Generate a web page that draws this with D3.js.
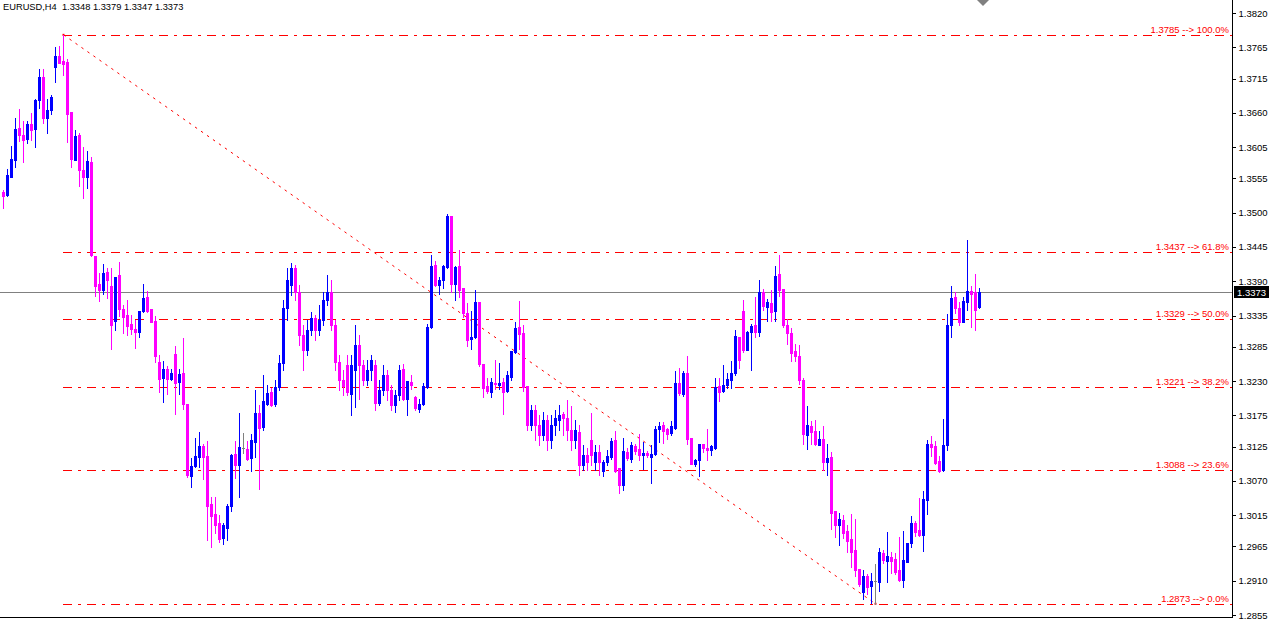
<!DOCTYPE html>
<html><head><meta charset="utf-8">
<script src="https://cdn.jsdelivr.net/npm/d3@7"></script>
<style>
body{margin:0;background:#fff;overflow:hidden}
svg{display:block}
text{font-family:"Liberation Sans",Arial,sans-serif}
</style>
</head><body>
<svg id="chart" width="1274" height="621"></svg>
<script>
const symbol = "EURUSD,H4";
const opens = [1.3533,1.3528,1.3557,1.3584,1.3636,1.3624,1.3618,1.3642,1.3634,1.3681,1.3717,1.3652,1.3665,1.3733,1.3751,1.3743,1.3741,1.3661,1.3584,1.3624,1.3568,1.3557,1.3581,1.3430,1.3386,1.3376,1.3405,1.3382,1.3326,1.3400,1.3346,1.3336,1.3321,1.3313,1.3309,1.3342,1.3365,1.3346,1.3326,1.3261,1.3235,1.3249,1.3233,1.3273,1.3228,1.3243,1.3193,1.3078,1.3094,1.3108,1.3126,1.3110,1.3033,1.3017,1.3003,1.2978,1.2995,1.3030,1.3113,1.3095,1.3123,1.3121,1.3107,1.3132,1.3179,1.3156,1.3193,1.3212,1.3193,1.3220,1.3259,1.3347,1.3384,1.3411,1.3373,1.3304,1.3280,1.3312,1.3331,1.3312,1.3328,1.3360,1.3373,1.3320,1.3261,1.3232,1.3256,1.3209,1.3248,1.3288,1.3256,1.3232,1.3248,1.3256,1.3195,1.3216,1.3240,1.3216,1.3192,1.3208,1.3249,1.3201,1.3228,1.3204,1.3185,1.3193,1.3220,1.3317,1.3416,1.3384,1.3392,1.3413,1.3495,1.3386,1.3414,1.3379,1.3339,1.3297,1.3301,1.3357,1.3257,1.3222,1.3212,1.3227,1.3224,1.3228,1.3214,1.3236,1.3277,1.3317,1.3307,1.3222,1.3160,1.3184,1.3160,1.3144,1.3168,1.3136,1.3160,1.3168,1.3177,1.3171,1.3152,1.3136,1.3148,1.3095,1.3111,1.3136,1.3100,1.3116,1.3086,1.3100,1.3108,1.3136,1.3091,1.3063,1.3116,1.3105,1.3126,1.3121,1.3111,1.3115,1.3108,1.3113,1.3153,1.3160,1.3153,1.3147,1.3155,1.3227,1.3209,1.3243,1.3139,1.3097,1.3103,1.3129,1.3123,1.3119,1.3123,1.3222,1.3214,1.3224,1.3232,1.3243,1.3301,1.3342,1.3280,1.3309,1.3320,1.3309,1.3373,1.3349,1.3355,1.3342,1.3402,1.3378,1.3320,1.3307,1.3278,1.3270,1.3232,1.3144,1.3158,1.3150,1.3127,1.3137,1.3100,1.3108,1.3022,1.3000,1.3007,1.2990,1.2977,1.2959,1.2929,1.2892,1.2918,1.2902,1.2910,1.2908,1.2954,1.2942,1.2948,1.2945,1.2927,1.2911,1.2940,1.2970,1.3003,1.2991,1.2983,1.3039,1.3129,1.3126,1.3102,1.3087,1.3127,1.3320,1.3365,1.3347,1.3325,1.3357,1.3374,1.3373,1.3348];
const highs = [1.3536,1.3570,1.3607,1.3652,1.3666,1.3647,1.3647,1.3660,1.3682,1.3730,1.3730,1.3682,1.3689,1.3766,1.3767,1.3785,1.3746,1.3661,1.3632,1.3628,1.3605,1.3599,1.3589,1.3430,1.3403,1.3418,1.3411,1.3411,1.3397,1.3421,1.3352,1.3360,1.3336,1.3328,1.3342,1.3386,1.3374,1.3346,1.3334,1.3272,1.3262,1.3254,1.3249,1.3286,1.3249,1.3299,1.3193,1.3107,1.3139,1.3148,1.3129,1.3134,1.3044,1.3044,1.3015,1.3002,1.3033,1.3113,1.3134,1.3179,1.3147,1.3134,1.3145,1.3216,1.3192,1.3240,1.3224,1.3219,1.3232,1.3272,1.3360,1.3411,1.3419,1.3416,1.3384,1.3320,1.3328,1.3341,1.3336,1.3352,1.3373,1.3400,1.3392,1.3328,1.3272,1.3248,1.3272,1.3272,1.3320,1.3304,1.3264,1.3264,1.3272,1.3264,1.3232,1.3256,1.3248,1.3224,1.3216,1.3256,1.3257,1.3230,1.3240,1.3206,1.3201,1.3227,1.3321,1.3432,1.3422,1.3397,1.3416,1.3498,1.3495,1.3414,1.3440,1.3379,1.3355,1.3342,1.3376,1.3357,1.3257,1.3235,1.3235,1.3264,1.3259,1.3235,1.3246,1.3278,1.3325,1.3358,1.3320,1.3222,1.3192,1.3192,1.3176,1.3180,1.3176,1.3176,1.3184,1.3192,1.3180,1.3200,1.3190,1.3168,1.3160,1.3127,1.3122,1.3179,1.3127,1.3127,1.3103,1.3119,1.3139,1.3150,1.3091,1.3139,1.3122,1.3132,1.3129,1.3145,1.3132,1.3118,1.3127,1.3158,1.3164,1.3164,1.3155,1.3166,1.3246,1.3251,1.3246,1.3270,1.3139,1.3105,1.3129,1.3129,1.3153,1.3127,1.3235,1.3235,1.3256,1.3243,1.3262,1.3312,1.3301,1.3360,1.3310,1.3321,1.3365,1.3392,1.3378,1.3362,1.3376,1.3414,1.3432,1.3378,1.3329,1.3315,1.3289,1.3288,1.3235,1.3190,1.3166,1.3168,1.3150,1.3158,1.3129,1.3116,1.3022,1.3019,1.3015,1.2999,1.3017,1.3009,1.2929,1.2927,1.2921,1.2922,1.2937,1.2962,1.2959,1.2988,1.2956,1.2954,1.2980,1.2990,1.2970,1.3014,1.3006,1.3043,1.3054,1.3136,1.3142,1.3134,1.3110,1.3169,1.3338,1.3382,1.3373,1.3357,1.3365,1.3456,1.3382,1.3402,1.3379];
const lows = [1.3507,1.3527,1.3557,1.3573,1.3615,1.3581,1.3612,1.3616,1.3605,1.3668,1.3644,1.3628,1.3658,1.3709,1.3740,1.3720,1.3613,1.3573,1.3584,1.3543,1.3523,1.3539,1.3430,1.3366,1.3358,1.3370,1.3363,1.3281,1.3312,1.3334,1.3307,1.3304,1.3305,1.3283,1.3301,1.3341,1.3341,1.3325,1.3261,1.3212,1.3196,1.3209,1.3232,1.3177,1.3209,1.3185,1.3076,1.3060,1.3092,1.3092,1.3073,1.2975,1.2964,1.2986,1.2972,1.2969,1.2975,1.3022,1.3075,1.3044,1.3115,1.3103,1.3086,1.3108,1.3057,1.3152,1.3192,1.3190,1.3190,1.3216,1.3248,1.3328,1.3368,1.3360,1.3288,1.3248,1.3272,1.3304,1.3296,1.3304,1.3320,1.3352,1.3312,1.3248,1.3216,1.3208,1.3208,1.3176,1.3188,1.3201,1.3224,1.3224,1.3232,1.3184,1.3192,1.3208,1.3200,1.3184,1.3180,1.3200,1.3200,1.3176,1.3217,1.3184,1.3180,1.3192,1.3219,1.3315,1.3382,1.3370,1.3379,1.3411,1.3373,1.3360,1.3365,1.3333,1.3286,1.3281,1.3299,1.3254,1.3204,1.3211,1.3204,1.3217,1.3217,1.3177,1.3212,1.3232,1.3275,1.3281,1.3214,1.3152,1.3152,1.3136,1.3127,1.3136,1.3119,1.3122,1.3144,1.3152,1.3144,1.3136,1.3119,1.3122,1.3079,1.3087,1.3087,1.3095,1.3087,1.3079,1.3078,1.3095,1.3105,1.3084,1.3051,1.3055,1.3103,1.3100,1.3113,1.3103,1.3089,1.3108,1.3067,1.3111,1.3132,1.3131,1.3137,1.3144,1.3153,1.3208,1.3206,1.3129,1.3097,1.3094,1.3078,1.3116,1.3103,1.3111,1.3121,1.3198,1.3212,1.3219,1.3219,1.3240,1.3251,1.3277,1.3280,1.3248,1.3301,1.3302,1.3344,1.3326,1.3326,1.3326,1.3366,1.3317,1.3289,1.3262,1.3262,1.3225,1.3129,1.3121,1.3129,1.3127,1.3127,1.3087,1.3079,1.2993,1.2980,1.2967,1.2978,1.2956,1.2932,1.2918,1.2902,1.2881,1.2889,1.2874,1.2873,1.2893,1.2938,1.2908,1.2922,1.2921,1.2910,1.2900,1.2940,1.2964,1.2982,1.2982,1.2958,1.3017,1.3110,1.3097,1.3084,1.3086,1.3119,1.3301,1.3339,1.3320,1.3325,1.3344,1.3317,1.3312,1.3347];
const closes = [1.3527,1.3560,1.3586,1.3634,1.3624,1.3616,1.3642,1.3632,1.3681,1.3717,1.3652,1.3665,1.3685,1.3751,1.3740,1.3738,1.3658,1.3586,1.3623,1.3568,1.3557,1.3583,1.3432,1.3382,1.3376,1.3403,1.3392,1.3320,1.3397,1.3346,1.3333,1.3318,1.3313,1.3309,1.3342,1.3363,1.3342,1.3325,1.3270,1.3233,1.3249,1.3233,1.3243,1.3227,1.3241,1.3193,1.3079,1.3094,1.3110,1.3126,1.3108,1.3030,1.3014,1.3000,1.2977,1.2999,1.3030,1.3111,1.3095,1.3124,1.3123,1.3105,1.3136,1.3179,1.3155,1.3198,1.3211,1.3192,1.3220,1.3259,1.3347,1.3392,1.3411,1.3373,1.3304,1.3280,1.3312,1.3331,1.3312,1.3328,1.3360,1.3373,1.3320,1.3261,1.3232,1.3222,1.3212,1.3256,1.3288,1.3256,1.3232,1.3248,1.3264,1.3195,1.3216,1.3240,1.3216,1.3192,1.3208,1.3248,1.3201,1.3230,1.3224,1.3187,1.3193,1.3222,1.3317,1.3414,1.3384,1.3392,1.3414,1.3495,1.3386,1.3413,1.3376,1.3339,1.3296,1.3301,1.3357,1.3257,1.3219,1.3214,1.3228,1.3225,1.3227,1.3212,1.3240,1.3278,1.3315,1.3305,1.3220,1.3160,1.3184,1.3160,1.3144,1.3168,1.3136,1.3160,1.3171,1.3176,1.3171,1.3152,1.3136,1.3152,1.3095,1.3111,1.3100,1.3111,1.3116,1.3100,1.3100,1.3110,1.3134,1.3086,1.3063,1.3118,1.3107,1.3127,1.3118,1.3111,1.3115,1.3111,1.3113,1.3153,1.3158,1.3150,1.3145,1.3158,1.3227,1.3211,1.3243,1.3137,1.3097,1.3103,1.3129,1.3123,1.3119,1.3126,1.3220,1.3212,1.3224,1.3233,1.3243,1.3302,1.3264,1.3280,1.3309,1.3318,1.3309,1.3373,1.3350,1.3357,1.3341,1.3398,1.3376,1.3320,1.3307,1.3275,1.3270,1.3232,1.3145,1.3160,1.3148,1.3129,1.3137,1.3100,1.3107,1.3019,1.3000,1.3009,1.2986,1.2974,1.2956,1.2927,1.2905,1.2918,1.2900,1.2910,1.2910,1.2956,1.2943,1.2950,1.2942,1.2924,1.2911,1.2943,1.2970,1.3003,1.2988,1.2983,1.3041,1.3129,1.3124,1.3099,1.3086,1.3127,1.3320,1.3363,1.3347,1.3325,1.3358,1.3374,1.3370,1.3344,1.3373];
const yTicks = [1.3820,1.3765,1.3715,1.3660,1.3605,1.3555,1.3500,1.3445,1.3390,1.3335,1.3285,1.3230,1.3175,1.3125,1.3070,1.3015,1.2965,1.2910,1.2855];
const fibLevels = [1.3785,1.3437,1.3329,1.3221,1.3088,1.2873];
const fibLabels = ["100.0%","61.8%","50.0%","38.2%","23.6%","0.0%"];
const fibStartIndex = 15;
const fibEndIndex = 218;
const currentPrice = 1.3373;

const W = 1274, H = 621;
const plotRight = 1232, plotBottom = 617;
const svg = d3.select("#chart");
const fmt = d3.format(".4f");
const n = opens.length;

const x = d3.scaleLinear().domain([0, n - 1]).range([3.5, 3.5 + 4 * (n - 1)]);
const y = d3.scaleLinear().domain([1.2855, 1.3820]).range([615, 13]);
const yr = v => Math.round(y(v));

svg.append("rect").attr("width", W).attr("height", H).attr("fill", "#fff");

const data = d3.range(n).map(i => ({i, o: opens[i], h: highs[i], l: lows[i], c: closes[i]}));
const colorOf = d => d.c > d.o ? "#0000ff" : (d.c < d.o ? "#ff00ff" : "#808080");

// Fibonacci levels
const fibG = svg.append("g");
const fx0 = x(fibStartIndex) - 0.5;
fibG.selectAll("line").data(fibLevels).join("line")
  .attr("x1", fx0).attr("x2", plotRight)
  .attr("y1", d => yr(d) + 0.5).attr("y2", d => yr(d) + 0.5)
  .attr("stroke", "#ff0000").attr("stroke-width", 1)
  .attr("stroke-dasharray", "9,6,3,6").attr("shape-rendering", "crispEdges");
fibG.selectAll("text").data(fibLevels).join("text")
  .attr("x", plotRight - 3).attr("y", d => yr(d) - 2)
  .attr("text-anchor", "end").attr("fill", "#ff0000")
  .attr("font-size", "9.5px")
  .text((d, k) => fmt(d) + " --> " + fibLabels[k]);

// Trend line (diagonal)
const tx1 = x(fibStartIndex), ty1 = y(highs[fibStartIndex]);
const tx2 = x(fibEndIndex), ty2 = y(lows[fibEndIndex]);
svg.append("line").attr("x1", tx1).attr("y1", ty1).attr("x2", tx2).attr("y2", ty2)
  .attr("stroke", "#ff0000").attr("stroke-width", 1).attr("stroke-dasharray", "2.5,4.8");
svg.append("rect").attr("x", tx1 - 1).attr("y", ty1 - 1).attr("width", 2).attr("height", 2).attr("fill", "#ff0000");
svg.append("rect").attr("x", tx2 - 1).attr("y", ty2 - 1).attr("width", 2).attr("height", 2).attr("fill", "#ff0000");

// Current price line
svg.append("line").attr("x1", 0).attr("x2", plotRight)
  .attr("y1", yr(currentPrice) + 0.5).attr("y2", yr(currentPrice) + 0.5)
  .attr("stroke", "#808080").attr("shape-rendering", "crispEdges");

// Candles
const cg = svg.append("g").attr("shape-rendering", "crispEdges");
cg.selectAll("line.wick").data(data).join("line").attr("class", "wick")
  .attr("x1", d => x(d.i)).attr("x2", d => x(d.i))
  .attr("y1", d => yr(d.h)).attr("y2", d => yr(d.l) + 1)
  .attr("stroke", colorOf).attr("stroke-width", 1);
cg.selectAll("rect.body").data(data).join("rect").attr("class", "body")
  .attr("x", d => x(d.i) - 1.5).attr("width", 3)
  .attr("y", d => yr(Math.max(d.o, d.c)))
  .attr("height", d => Math.max(1, yr(Math.min(d.o, d.c)) - yr(Math.max(d.o, d.c)) + 1))
  .attr("fill", colorOf);

// Axis
const axis = d3.axisRight(y).tickValues(yTicks).tickSize(3).tickPadding(3).tickFormat(fmt);
const ag = svg.append("g").attr("transform", `translate(${plotRight + 0.5},0)`).call(axis);
ag.select(".domain").remove();
ag.selectAll(".tick line").attr("stroke", "#000").attr("shape-rendering", "crispEdges");
ag.selectAll(".tick text").attr("fill", "#000").attr("font-size", "9.5px")
  .attr("font-family", "Liberation Sans, Arial, sans-serif");
svg.append("line").attr("x1", plotRight + 0.5).attr("x2", plotRight + 0.5).attr("y1", 0).attr("y2", plotBottom + 1)
  .attr("stroke", "#000").attr("shape-rendering", "crispEdges");
svg.append("line").attr("x1", 0).attr("x2", plotRight + 1).attr("y1", plotBottom + 0.5).attr("y2", plotBottom + 0.5)
  .attr("stroke", "#000").attr("shape-rendering", "crispEdges");

// Current price tag
const cy = yr(currentPrice);
svg.append("rect").attr("x", plotRight + 2).attr("y", cy - 6).attr("width", 35).attr("height", 12).attr("fill", "#000");
svg.append("text").attr("x", plotRight + 5).attr("y", cy + 4).attr("fill", "#fff").attr("font-size", "9.5px").text(fmt(currentPrice));

// Chart shift marker
svg.append("path").attr("d", "M977,0 L989,0 L983,6 Z").attr("fill", "#808080");

// Title
const last = n - 1;
svg.append("text").attr("x", 3).attr("y", 10).attr("font-size", "9.3px").attr("fill", "#000")
  .style("white-space", "pre")
  .text(symbol + "  " + [opens[last], highs[last], lows[last], closes[last]].map(fmt).join(" "));
</script>
</body></html>
